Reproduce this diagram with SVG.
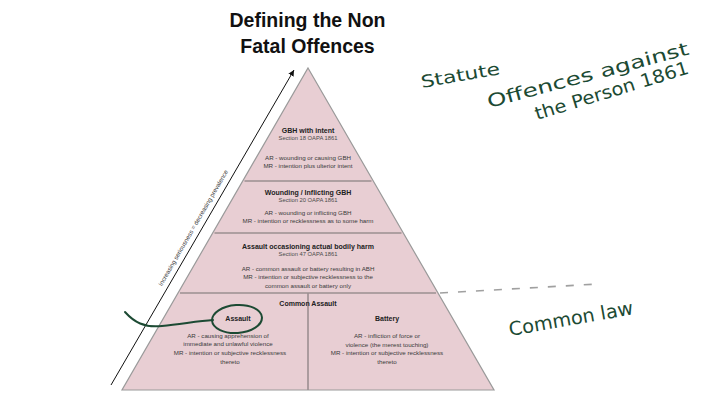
<svg xmlns="http://www.w3.org/2000/svg" width="720" height="404" viewBox="0 0 720 404">
<style>
  .title{font-family:"Liberation Sans",Arial,sans-serif;font-weight:bold;font-size:19.5px;fill:#111;text-anchor:middle}
  .h{font-family:"Liberation Sans",Arial,sans-serif;font-weight:bold;font-size:7px;fill:#222;text-anchor:middle}
  .s{font-family:"Liberation Sans",Arial,sans-serif;font-size:5.8px;fill:#4a4a4a;text-anchor:middle}
  .b{font-family:"Liberation Sans",Arial,sans-serif;font-size:6.2px;fill:#3a3a3a;text-anchor:middle}
  .div{stroke:#9b8f91;stroke-width:1.6;fill:none}
  .hand{font-family:"DejaVu Sans","Liberation Sans",sans-serif;fill:#1c4a33}
  .ink{stroke:#1c4a33;stroke-width:2;fill:none;stroke-linecap:round}
</style>
<defs>
  <marker id="arr" markerWidth="8" markerHeight="8" refX="6" refY="3" orient="auto" markerUnits="userSpaceOnUse">
    <path d="M0,0 L6,3 L0,6 Z" fill="#111"/>
  </marker>
</defs>
<rect width="720" height="404" fill="#ffffff"/>
<g id="title">
  <text class="title" x="307.5" y="27">Defining the Non</text>
  <text class="title" x="307.5" y="53">Fatal Offences</text>
</g>
<g id="pyramid">
  <polygon points="308,68 494,390 122,390" fill="#e8ced3" stroke="#9a9a9a" stroke-width="1.2"/>
  <line class="div" x1="244.5" y1="181" x2="371.5" y2="181"/>
  <line class="div" x1="214.5" y1="233" x2="401.5" y2="233"/>
  <line class="div" x1="180" y1="293" x2="436" y2="293"/>
  <line class="div" x1="308" y1="293" x2="308" y2="390"/>
</g>
<g id="gbh-intent">
  <text class="h" x="308" y="133">GBH with intent</text>
  <text class="s" x="308" y="140">Section 18 OAPA 1861</text>
  <text class="b" x="308" y="159.5">AR - wounding or causing GBH</text>
  <text class="b" x="308" y="167.5">MR - intention plus ulterior intent</text>
</g>
<g id="wounding">
  <text class="h" x="308" y="195">Wounding / Inflicting GBH</text>
  <text class="s" x="308" y="201.5">Section 20 OAPA 1861</text>
  <text class="b" x="308" y="215">AR - wounding or inflicting GBH</text>
  <text class="b" x="308" y="222.5">MR - intention or recklessness as to some harm</text>
</g>
<g id="abh">
  <text class="h" x="308" y="249">Assault occasioning actual bodily harm</text>
  <text class="s" x="308" y="256">Section 47 OAPA 1861</text>
  <text class="b" x="308" y="270.5">AR - common assault or battery resulting in ABH</text>
  <text class="b" x="308" y="278.5">MR - intention or subjective recklessness to the</text>
  <text class="b" x="308" y="288">common assault or battery only</text>
</g>
<g id="common-assault">
  <text class="h" x="308" y="306">Common Assault</text>
</g>
<g id="assault">
  <text class="h" x="238" y="321">Assault</text>
  <text class="b" x="228" y="337.5">AR - causing apprehension of</text>
  <text class="b" x="228" y="346">immediate and unlawful violence</text>
  <text class="b" x="230" y="355">MR - intention or subjective recklessness</text>
  <text class="b" x="230" y="363.5">thereto</text>
</g>
<g id="battery">
  <text class="h" x="387" y="321">Battery</text>
  <text class="b" x="387" y="338">AR - infliction of force or</text>
  <text class="b" x="387" y="346.5">violence (the merest touching)</text>
  <text class="b" x="387" y="355">MR - intention or subjective recklessness</text>
  <text class="b" x="387" y="364">thereto</text>
</g>
<g id="connectors">
  <line x1="111" y1="385" x2="294" y2="70" stroke="#111" stroke-width="1" marker-end="url(#arr)"/>
  <path d="M440,293 L598,284" stroke="#a0a0a0" stroke-width="1.6" stroke-dasharray="8,10" fill="none"/>
</g>
<g id="axis-label">
  <text class="s" x="195" y="229" transform="rotate(-60 195 229)" style="font-size:6.2px;fill:#3a3a3a">Increasing seriousness = decreasing prevalence</text>
</g>
<g id="annotations">
  <ellipse class="ink" cx="237" cy="319" rx="25" ry="14" transform="rotate(-4 237 319)"/>
  <path class="ink" d="M125,312 C134,322 144,328 162,326 C182,324 198,321 213,320"/>
  <text class="hand" x="422" y="88" font-size="17" textLength="80" lengthAdjust="spacingAndGlyphs" transform="rotate(-10 422 88)">Statute</text>
  <text class="hand" x="489" y="108" font-size="18" textLength="208" lengthAdjust="spacingAndGlyphs" transform="rotate(-15 489 108)">Offences against</text>
  <text class="hand" x="537" y="120" font-size="18" textLength="160" lengthAdjust="spacingAndGlyphs" transform="rotate(-17 537 120)">the Person 1861</text>
  <text class="hand" x="510" y="336" font-size="19" textLength="126" lengthAdjust="spacingAndGlyphs" transform="rotate(-10 510 336)">Common law</text>
</g>
</svg>
